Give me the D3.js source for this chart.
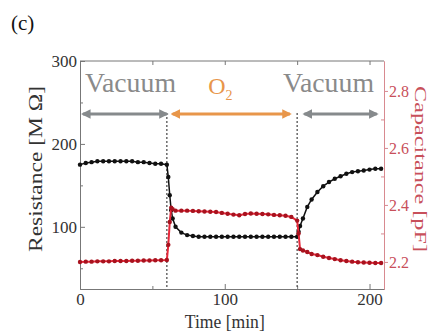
<!DOCTYPE html>
<html>
<head>
<meta charset="utf-8">
<script src="https://cdn.jsdelivr.net/npm/d3@7"></script>
<style>
  body { margin: 0; background: #fff; }
  svg { display: block; font-family: "Liberation Serif", "DejaVu Serif", serif; }
  .axis path, .axis line { stroke: #777; }
  .raxis path, .raxis line { stroke: #d88a90; }
</style>
</head>
<body>
<div class="chart"></div>
<script>
// Data.
const times = [
  0, 4, 8, 12, 16, 20, 24, 28, 32, 36, 40, 44, 48, 52, 56, 60,
  61, 62, 63, 64, 66, 70, 74, 78, 82, 86, 90, 94, 98, 102, 106, 110,
  114, 118, 122, 126, 130, 134, 138, 142, 146, 150,
  151, 152, 154, 157, 160, 164, 168, 172, 176, 180, 184, 188, 192, 196, 200, 204, 208
];
const resistance = [
  175, 177, 178, 179, 179, 179, 179, 179, 179, 179, 178, 178, 177, 176, 176, 175,
  160, 138, 120, 110, 100, 93, 90, 89, 88, 88, 88, 88, 88, 88, 88, 88,
  88, 88, 88, 88, 88, 88, 88, 88, 88, 88,
  94, 101, 110, 124, 133, 142, 149, 154, 158, 161, 164, 166, 167, 168, 169, 170, 170
];
const capacitance = [
  2.200, 2.201, 2.201, 2.202, 2.202, 2.202, 2.203, 2.203, 2.203, 2.204, 2.204, 2.205, 2.205, 2.206, 2.206, 2.207,
  2.26, 2.34, 2.39, 2.385, 2.38, 2.38, 2.38, 2.379, 2.378, 2.377, 2.376, 2.375, 2.372, 2.369, 2.366, 2.364,
  2.368, 2.37, 2.369, 2.368, 2.367, 2.365, 2.364, 2.362, 2.358, 2.345,
  2.30, 2.245, 2.24, 2.235, 2.228, 2.224, 2.218, 2.214, 2.21, 2.206, 2.203, 2.201, 2.199, 2.198, 2.197, 2.196, 2.196
];

// Gas phases: label, arrow start, arrow end (min).
const phaseNames = ['Vacuum', 'O2', 'Vacuum'];
const phaseFrom = [2, 64, 155];
const phaseTo = [60, 145, 205];
const switchTimes = [60, 150];

// Ticks.
const xTicks = [0, 100, 200];
const xMinor = [50, 150];
const rTicks = [100, 200, 300];
const rMinor = [50, 150, 250];
const cTicks = [2.2, 2.4, 2.6, 2.8];
const cMinor = [2.3, 2.5, 2.7];

const serif = '"Liberation Serif", "DejaVu Serif", serif';

// Margin convention.
const margin = { top: 61, right: 51, bottom: 46, left: 80 };
const chartWidth = 435, chartHeight = 335;
const width = chartWidth - margin.left - margin.right;
const height = chartHeight - margin.top - margin.bottom;

// Scales.
const xScale = d3.scaleLinear().domain([0, 210]).range([0, width]);
const yLeft = d3.scaleLinear().domain([25, 300]).range([height, 0]);
const yRight = d3.scaleLinear().domain([2.105, 2.905]).range([height, 0]);

const svgRoot = d3.select('.chart')
  .append('svg')
  .attr('width', chartWidth)
  .attr('height', chartHeight);

// Panel letter.
svgRoot.append('text')
  .attr('x', 11).attr('y', 30)
  .style('font-size', '21px')
  .style('fill', '#111')
  .text('(c)');

const svg = svgRoot.append('g')
  .attr('transform', `translate(${margin.left}, ${margin.top})`);

// Serif tick labels (d3 puts sans-serif on the axis group).
function styleTicks(g, color, size) {
  g.attr('font-family', serif).attr('font-size', size);
  g.selectAll('text')
    .style('font-family', serif)
    .style('font-size', `${size}px`)
    .style('fill', color);
}

// Frame and axes.
svg.append('line')
  .attr('x1', 0).attr('x2', width).attr('y1', 0).attr('y2', 0)
  .style('stroke', '#777');

svg.append('g').attr('class', 'axis')
  .attr('transform', `translate(0,${height})`)
  .call(d3.axisBottom(xScale).tickValues(xTicks).tickSize(-5).tickPadding(4).tickSizeOuter(0))
  .call(styleTicks, '#333', 17);
svg.append('g').attr('class', 'axis')
  .attr('transform', `translate(0,${height})`)
  .call(d3.axisBottom(xScale).tickValues(xMinor).tickSize(-3).tickFormat('').tickSizeOuter(0));
svg.append('g').attr('class', 'axis')
  .call(d3.axisBottom(xScale).tickValues(xTicks.concat(xMinor)).tickSize(4).tickFormat('').tickSizeOuter(0))
  .select('.domain').remove();

svg.append('g').attr('class', 'axis')
  .call(d3.axisLeft(yLeft).tickValues(rTicks).tickSize(-5).tickPadding(3).tickSizeOuter(0))
  .call(styleTicks, '#333', 17);
svg.append('g').attr('class', 'axis')
  .call(d3.axisLeft(yLeft).tickValues(rMinor).tickSize(-3).tickFormat('').tickSizeOuter(0));

svg.append('g').attr('class', 'raxis')
  .attr('transform', `translate(${width},0)`)
  .call(d3.axisRight(yRight).tickValues(cTicks).tickSize(4).tickPadding(1).tickFormat(d3.format('.1f')).tickSizeOuter(0))
  .call(styleTicks, '#c8505a', 16);
svg.append('g').attr('class', 'raxis')
  .attr('transform', `translate(${width},0)`)
  .call(d3.axisRight(yRight).tickValues(cMinor).tickSize(-3).tickFormat('').tickSizeOuter(0));

// Axis titles.
svg.append('text')
  .attr('transform', `translate(${-38},${height / 2 - 6}) rotate(-90)`)
  .attr('text-anchor', 'middle')
  .attr('textLength', 166)
  .attr('lengthAdjust', 'spacingAndGlyphs')
  .style('font-size', '18px')
  .style('fill', '#333')
  .text('Resistance [M Ω]');

svg.append('text')
  .attr('transform', `translate(${width + 31},${height / 2 - 6}) rotate(90)`)
  .attr('text-anchor', 'middle')
  .attr('textLength', 166)
  .attr('lengthAdjust', 'spacingAndGlyphs')
  .style('font-size', '17px')
  .style('fill', '#c8505a')
  .text('Capacitance [pF]');

svg.append('text')
  .attr('x', xScale(100)).attr('y', height + 39)
  .attr('text-anchor', 'middle')
  .attr('textLength', 80)
  .attr('lengthAdjust', 'spacingAndGlyphs')
  .style('font-size', '18px')
  .style('fill', '#333')
  .text('Time [min]');

// Switch lines.
svg.selectAll('.switch')
  .data(switchTimes)
  .join('line')
  .attr('class', 'switch')
  .attr('x1', d => xScale(d)).attr('x2', d => xScale(d))
  .attr('y1', 52).attr('y2', height)
  .style('stroke', '#444')
  .style('stroke-width', 1.2)
  .style('stroke-dasharray', '2,2');

// Phase arrows and labels.
const phaseColor = i => (phaseNames[i] === 'O2' ? '#e8964a' : '#868a8c');
const defs = svgRoot.append('defs');
[0, 1, 2].forEach(i => {
  const id = `head${i}`;
  defs.append('marker')
    .attr('id', id)
    .attr('viewBox', '0 0 10 10')
    .attr('refX', 8).attr('refY', 5)
    .attr('markerWidth', 3.2).attr('markerHeight', 3.2)
    .attr('orient', 'auto-start-reverse')
    .append('path')
    .attr('d', 'M0,0 L10,5 L0,10 Z')
    .style('fill', phaseColor(i));

  svg.append('line')
    .attr('x1', xScale(phaseFrom[i])).attr('x2', xScale(phaseTo[i]))
    .attr('y1', 53).attr('y2', 53)
    .style('stroke', phaseColor(i))
    .style('stroke-width', 3)
    .attr('marker-start', `url(#${id})`)
    .attr('marker-end', `url(#${id})`);
});

const vacStyle = sel => sel
  .attr('y', 31)
  .attr('textLength', 91)
  .attr('lengthAdjust', 'spacingAndGlyphs')
  .style('font-size', '27px')
  .style('fill', '#8a8a8a');

svg.append('text').attr('x', 5).text(phaseNames[0]).call(vacStyle);
svg.append('text').attr('x', 203).text(phaseNames[2]).call(vacStyle);

const o2 = svg.append('text')
  .attr('x', xScale(97)).attr('y', 33)
  .attr('text-anchor', 'middle')
  .style('font-size', '24px')
  .style('fill', '#e8964a');
o2.append('tspan').text('O');
o2.append('tspan').attr('dy', 6).style('font-size', '14px').text('2');

// Resistance series.
const lineR = d3.line().x((d, i) => xScale(times[i])).y(d => yLeft(d));
svg.append('path')
  .datum(resistance)
  .attr('d', lineR)
  .style('fill', 'none')
  .style('stroke', '#111')
  .style('stroke-width', 1.5);
svg.selectAll('.dotR')
  .data(resistance)
  .join('circle')
  .attr('class', 'dotR')
  .attr('cx', (d, i) => xScale(times[i]))
  .attr('cy', d => yLeft(d))
  .attr('r', 2.2)
  .style('fill', '#111');

// Capacitance series.
const lineC = d3.line().x((d, i) => xScale(times[i])).y(d => yRight(d));
svg.append('path')
  .datum(capacitance)
  .attr('d', lineC)
  .style('fill', 'none')
  .style('stroke', '#e8283a')
  .style('stroke-width', 2);
svg.selectAll('.dotC')
  .data(capacitance)
  .join('circle')
  .attr('class', 'dotC')
  .attr('cx', (d, i) => xScale(times[i]))
  .attr('cy', d => yRight(d))
  .attr('r', 2.2)
  .style('fill', '#a8121e');
</script>
</body>
</html>
